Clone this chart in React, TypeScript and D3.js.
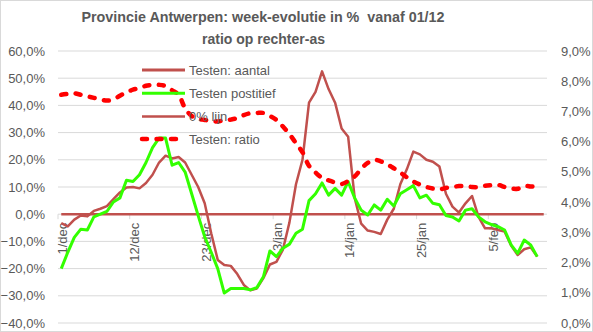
import React from "react";
import * as d3 from "d3";

const W = 593;
const H = 332;

// categories: 75 days, 1/dec .. 13/feb
const categoryCount = 75;
const tickLabels = ["1/dec", "12/dec", "23/dec", "3/jan", "14/jan", "25/jan", "5/feb"];
const tickEvery = 11;

const leftTicks = [60, 50, 40, 30, 20, 10, 0, -10, -20, -30, -40];
const rightTicks = [9, 8, 7, 6, 5, 4, 3, 2, 1, 0];

const aantal = [
  -3.3, -4.5, -2, -0.5, -0.8, 1.2, 2, 3, 5.5, 8,
  9.8, 10, 9.5, 11.5, 14.5, 19, 21.5, 20.5, 21, 19,
  14.5, 10, 4, -7, -16.8, -18.7, -19, -22, -26, -28,
  -27.3, -23.5, -18.5, -17.5, -13, -3, 11, 20, 41, 45,
  52.5, 46, 41, 31.5, 28.5, 6, -3.5, -6, -6.5, -7.3,
  -2, 2, 11, 16.5, 23, 22, 20, 19.3, 17.5, 7.5,
  2.8, 0.6, 4, 6.7, -1, -5.2, -5.2, -5.8, -6.4, -11.5,
  -15, -12.9, -12.2, -15.6,
];

const positief = [
  -20, -14, -8.5, -5.5, -5.8, -1, 0, 1, 4.5, 6,
  12.5, 12, 14.5, 19, 24.5, 28, 28, 18, 19, 15.5,
  7.5, -0.5, -8.3, -14, -20, -29, -27.3, -27.3, -27.3, -27.8,
  -27, -23, -13.5, -15.6, -12.5, -11, -7, -5.5, 5, 7.5,
  11.5, 7, 9.5, 7, 12, 6, 1.5, -0.3, 3.4, 1.5,
  5.5, 3, 7.5, 9, 10.5, 6, 7, 4, 3.5, -0.5,
  -1, -2.5, 1.5, 2, -1, -2.8, -3.8, -4.6, -5.8, -11.3,
  -14.4, -9.5, -11.3, -15.6,
];

const nulLijn = new Array(categoryCount).fill(0);

const ratio = [
  7.55, 7.58, 7.6, 7.55, 7.5, 7.45, 7.4, 7.36, 7.4, 7.52,
  7.63, 7.72, 7.77, 7.85, 7.88, 7.88, 7.84, 7.7, 7.55, 7.1,
  6.85, 6.75, 6.72, 6.68, 6.67, 6.7, 6.73, 6.78, 6.88, 6.94,
  6.95, 6.95, 6.85, 6.72, 6.5, 6.25, 5.95, 5.65, 5.2, 4.98,
  4.8, 4.72, 4.65, 4.6, 4.7, 4.85, 5.1, 5.3, 5.4, 5.35,
  5.25, 5.12, 4.98, 4.82, 4.68, 4.58, 4.5, 4.45, 4.42, 4.47,
  4.5, 4.53, 4.53, 4.5, 4.5, 4.54, 4.56, 4.57, 4.5, 4.45,
  4.44, 4.53, 4.52, 4.5,
];

const legendNames = ["Testen: aantal", "Testen postitief", "0% lijn", "Testen: ratio"];

const BROWN = "#C0504D";
const GREEN = "#33FF00";
const RED = "#FF0000";
const GREY = "#595959";
const GRID = "#D9D9D9";
const FONT = "'Liberation Sans', Arial, sans-serif";

export default function App() {
  const plotL = 58;
  const plotR = 547;
  const plotT = 51;
  const plotB = 323;

  const x = d3.scaleBand<number>().domain(d3.range(categoryCount)).range([plotL, plotR]).padding(0);
  const cx = (i: number) => (x(i) as number) + x.bandwidth() / 2;
  const yL = d3.scaleLinear().domain([-40, 60]).range([plotB, plotT]);
  const yR = d3.scaleLinear().domain([0, 9]).range([plotB, plotT]);

  const lineL = d3.line<number>().x((_, i) => cx(i)).y((d) => yL(d));
  const lineR = d3.line<number>().x((_, i) => cx(i)).y((d) => yR(d)).curve(d3.curveCatmullRom.alpha(0.5));

  const y0 = yL(0);
  const tickIdx = tickLabels.map((_, k) => k * tickEvery);

  const legendX1 = 142;
  const legendX2 = 185;
  const legendYs = [70, 93.3, 116.5, 139];
  const legendStyles = [
    { stroke: BROWN, w: 3, dash: undefined as string | undefined, cap: "butt" },
    { stroke: GREEN, w: 3, dash: undefined, cap: "butt" },
    { stroke: BROWN, w: 2.5, dash: undefined, cap: "butt" },
    { stroke: RED, w: 4.5, dash: "5,9.5", cap: "round" },
  ];

  return (
    <svg
      width={W}
      height={H}
      style={{ position: "absolute", left: 0, top: 0, background: "#fff" }}
      fontFamily={FONT}
    >
      <rect x={0.5} y={0.5} width={W - 1} height={H - 1} fill="#fff" stroke={GRID} />

      {/* title */}
      <text x={263} y={22} textAnchor="middle" fontSize={14.5} fontWeight="bold" fill={GREY}
        textLength={363} lengthAdjust="spacingAndGlyphs" style={{ whiteSpace: "pre" }}>
        {"Provincie Antwerpen: week-evolutie in %  vanaf 01/12"}
      </text>
      <text x={263.5} y={44} textAnchor="middle" fontSize={14.5} fontWeight="bold" fill={GREY}
        textLength={123} lengthAdjust="spacingAndGlyphs">
        ratio op rechter-as
      </text>

      {/* gridlines */}
      {leftTicks.map((t) => (
        <line key={"g" + t} x1={plotL} x2={plotR} y1={yL(t)} y2={yL(t)} stroke={GRID} strokeWidth={1} />
      ))}

      {/* left axis labels */}
      {leftTicks.map((t) => (
        <text key={"l" + t} x={45} y={yL(t)} dy="0.35em" textAnchor="end" fontSize={13} fill={GREY}>
          {d3.format(".1f")(t).replace(".", ",") + "%"}
        </text>
      ))}

      {/* right axis labels */}
      {rightTicks.map((t) => (
        <text key={"r" + t} x={561} y={yR(t)} dy="0.35em" textAnchor="start" fontSize={13} fill={GREY}>
          {d3.format(".1f")(t).replace(".", ",") + "%"}
        </text>
      ))}

      {/* category tick marks */}
      {tickIdx.map((i) => (
        <line key={"t" + i} x1={x(i) as number} x2={x(i) as number} y1={y0} y2={y0 + 5} stroke={GRID} strokeWidth={1} />
      ))}

      {/* category labels */}
      {tickIdx.map((i, k) => (
        <text key={"c" + i} transform={`translate(${cx(i) + 1.5},${y0 + 8.5}) rotate(-90)`} dy="0.35em"
          textAnchor="end" fontSize={13} fill={GREY}>
          {tickLabels[k]}
        </text>
      ))}

      {/* series */}
      <path d={lineL(nulLijn) || ""} fill="none" stroke={BROWN} strokeWidth={2.5} />
      <path d={lineL(aantal) || ""} fill="none" stroke={BROWN} strokeWidth={2.5} strokeLinejoin="round" />
      <path d={lineL(positief) || ""} fill="none" stroke={GREEN} strokeWidth={3} strokeLinejoin="round" />
      <path d={lineR(ratio) || ""} fill="none" stroke={RED} strokeWidth={4.5} strokeDasharray="5,9.5" strokeLinecap="round" />

      {/* legend */}
      {legendNames.map((name, k) => (
        <g key={"lg" + k}>
          <line x1={legendX1} x2={legendX2} y1={legendYs[k]} y2={legendYs[k]} stroke={legendStyles[k].stroke}
            strokeWidth={legendStyles[k].w} strokeDasharray={legendStyles[k].dash}
            strokeLinecap={legendStyles[k].cap as any} />
          <text x={189} y={legendYs[k]} dy="0.35em" fontSize={13} fill={GREY}>
            {name}
          </text>
        </g>
      ))}
    </svg>
  );
}
